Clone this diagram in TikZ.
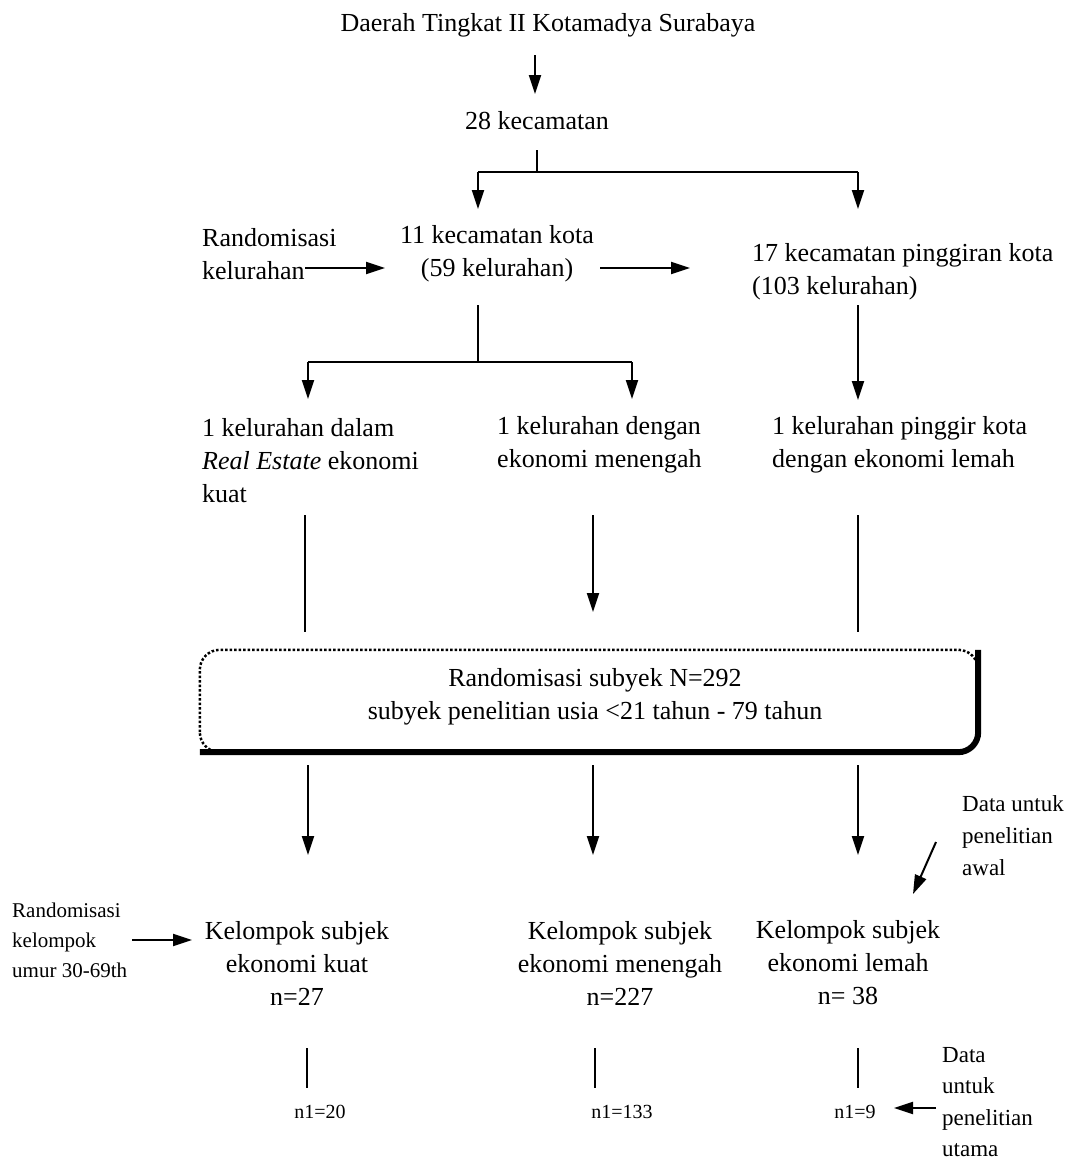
\documentclass[tikz,border=0pt]{standalone}
\usepackage{fontspec}
\setmainfont{Liberation Serif}
\usetikzlibrary{arrows.meta}
\begin{document}
\begin{tikzpicture}[x=1pt,y=-1pt,
 every node/.style={inner sep=0pt, font=\fontsize{26}{33}\selectfont},
 lbl/.style={align=left, anchor=west},
 ctr/.style={align=center},
 side/.style={align=left, anchor=west, font=\fontsize{23}{32}\selectfont},
 small/.style={font=\fontsize{20}{24}\selectfont},
 ln/.style={line width=2pt},
 arr/.style={ln, -{Triangle[length=19pt,width=12pt]}}]
\useasboundingbox (0,0) rectangle (1084,1162);

% texts
\node (title) at (548,25) {Daerah Tingkat II Kotamadya Surabaya};
\node (kec) at (537,121) {28 kecamatan};
\node[lbl] (rand1) at (202,254) {Randomisasi\\kelurahan};
\node[ctr] (kota) at (497,254) {11 kecamatan kota\\(59 kelurahan)};
\node[lbl] (pinggir) at (752,272) {17 kecamatan pinggiran kota\\(103 kelurahan)};
\node[lbl] (kel1) at (202,461) {1 kelurahan dalam\\\textit{Real Estate} ekonomi\\kuat};
\node[lbl] (kel2) at (497,445) {1 kelurahan dengan\\ekonomi menengah};
\node[lbl] (kel3) at (772,445) {1 kelurahan pinggir kota\\dengan ekonomi lemah};

\node[minimum width=778pt, minimum height=102pt] (box) at (589,701) {};
\node[ctr] (boxtxt) at (595,697) {Randomisasi subyek N=292\\subyek penelitian usia <21 tahun - 79 tahun};
\draw[dotted, line width=2.5pt, rounded corners=20pt] (box.south west) rectangle (box.north east);
\draw[line width=6pt, rounded corners=20pt] (box.south west) -- (box.south east) -- (box.north east);

\node[side] (data1) at (962,836) {Data untuk\\penelitian\\awal};
\node[side, font=\fontsize{21}{30}\selectfont] (rand2) at (12,940) {Randomisasi\\kelompok\\umur 30-69th};
\node[ctr] (grp1) at (297,963) {Kelompok subjek\\ekonomi kuat\\n=27};
\node[ctr] (grp2) at (620,963) {Kelompok subjek\\ekonomi menengah\\n=227};
\node[ctr] (grp3) at (848,963) {Kelompok subjek\\ekonomi lemah\\n= 38};
\node[small] (n1) at (320,1112) {n1=20};
\node[small] (n2) at (622,1112) {n1=133};
\node[small] (n3) at (855,1112) {n1=9};
\node[side, font=\fontsize{23}{31.5}\selectfont] (data2) at (942,1102) {Data\\untuk\\penelitian\\utama};

% coordinates
\coordinate (a0) at (535,55);
\coordinate (a1) at (535,94);
\coordinate (b0) at (537,150);
\coordinate (b1) at (537,172);
\coordinate (bl) at (478,172);
\coordinate (br) at (858,172);
\coordinate (blE) at (478,209);
\coordinate (brE) at (858,209);
\coordinate (r0) at (305,268);
\coordinate (r1) at (385,268);
\coordinate (k0) at (600,268);
\coordinate (k1) at (690,268);
\coordinate (c0) at (478,305);
\coordinate (c1) at (478,362);
\coordinate (cl) at (308,362);
\coordinate (cr) at (632,362);
\coordinate (clE) at (308,399);
\coordinate (crE) at (632,399);
\coordinate (p0) at (858,305);
\coordinate (p1) at (858,400);
\coordinate (d10) at (305,515);
\coordinate (d20) at (593,515);
\coordinate (d30) at (858,515);
\coordinate (d11) at (305,632);
\coordinate (d21) at (593,612);
\coordinate (d31) at (858,632);
\coordinate (e1) at (308,765);
\coordinate (e2) at (593,765);
\coordinate (e3) at (858,765);
\coordinate (e1E) at (308,855);
\coordinate (e2E) at (593,855);
\coordinate (e3E) at (858,855);
\coordinate (s0) at (936,842);
\coordinate (s1) at (913,894);
\coordinate (g0) at (132,940);
\coordinate (g1) at (192,940);
\coordinate (f1) at (307,1048);
\coordinate (f2) at (595,1048);
\coordinate (f3) at (858,1048);
\coordinate (f1E) at (307,1088);
\coordinate (f2E) at (595,1088);
\coordinate (f3E) at (858,1088);
\coordinate (h0) at (936,1108);
\coordinate (h1) at (894,1108);

% connectors
\draw[arr] (a0) -- (a1);
\draw[ln] (b0) -- (b1);
\draw[ln] (bl) -- (br);
\draw[arr] (bl) -- (blE);
\draw[arr] (br) -- (brE);
\draw[arr] (r0) -- (r1);
\draw[arr] (k0) -- (k1);
\draw[ln] (c0) -- (c1);
\draw[ln] (cl) -- (cr);
\draw[arr] (cl) -- (clE);
\draw[arr] (cr) -- (crE);
\draw[arr] (p0) -- (p1);
\draw[ln] (d10) -- (d11);
\draw[arr] (d20) -- (d21);
\draw[ln] (d30) -- (d31);
\draw[arr] (e1) -- (e1E);
\draw[arr] (e2) -- (e2E);
\draw[arr] (e3) -- (e3E);
\draw[arr] (s0) -- (s1);
\draw[arr] (g0) -- (g1);
\draw[ln] (f1) -- (f1E);
\draw[ln] (f2) -- (f2E);
\draw[ln] (f3) -- (f3E);
\draw[arr] (h0) -- (h1);
\end{tikzpicture}
\end{document}
